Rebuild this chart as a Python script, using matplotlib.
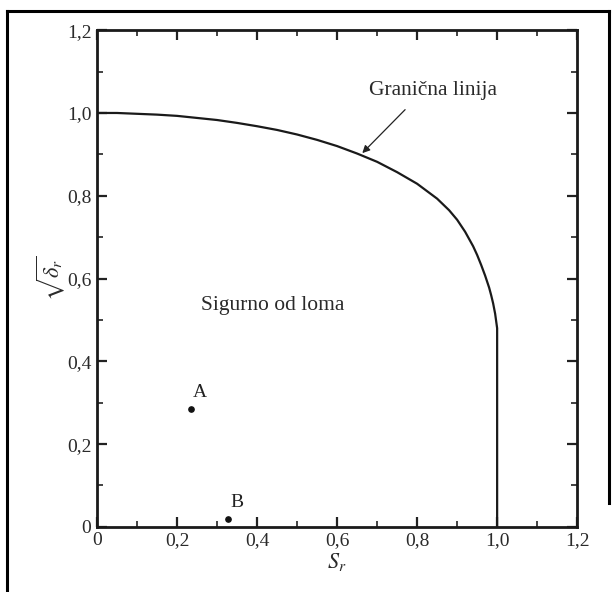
import numpy as np
import matplotlib
matplotlib.use("Agg")
import matplotlib.pyplot as plt
from matplotlib.ticker import MultipleLocator, FuncFormatter
from matplotlib.lines import Line2D

plt.rcParams['font.family'] = ['Liberation Serif', 'DejaVu Serif']
plt.rcParams['mathtext.fontset'] = 'stix'

# granicna linija
sr_curve = [0.0, 0.05, 0.1, 0.15, 0.2, 0.25, 0.3, 0.35, 0.4, 0.45, 0.5, 0.55,
            0.6, 0.65, 0.7, 0.75, 0.8, 0.85, 0.88, 0.9, 0.92, 0.94, 0.95,
            0.96, 0.97, 0.98, 0.985, 0.99, 0.995, 1.0, 1.0]
kr_curve = [1.0, 1.0, 0.998, 0.996, 0.993, 0.988, 0.983, 0.976, 0.968, 0.959,
            0.948, 0.935, 0.92, 0.902, 0.882, 0.857, 0.829, 0.793, 0.765,
            0.742, 0.713, 0.678, 0.657, 0.633, 0.607, 0.578, 0.56, 0.54,
            0.515, 0.48, 0.0]

# tocke A i B
pt_names = ['A', 'B']
pt_sr = [0.234, 0.327]
pt_kr = [0.285, 0.02]

fig = plt.figure(figsize=(6.14, 5.92), dpi=100)
ax = fig.add_axes([0.158, 0.110, 0.782, 0.839])

ax.plot(sr_curve, kr_curve, color='#1a1a1a', lw=1.6, solid_joinstyle='round')
ax.plot(pt_sr, pt_kr, 'o', color='#111111', ms=3.8)
for name, x, y in zip(pt_names, pt_sr, pt_kr):
    ax.text(x + 0.006, y + 0.018, name, fontsize=14, color='#222222',
            ha='left', va='bottom')

ax.text(0.44, 0.536, 'Sigurno od loma', fontsize=15.5, color='#2a2a2a',
        ha='center', va='center')
ax.text(0.84, 1.054, 'Granična linija', fontsize=15.5, color='#2a2a2a',
        ha='center', va='center')
ax.annotate('', xy=(0.663, 0.903), xytext=(0.77, 1.008),
            arrowprops=dict(arrowstyle='-|>', color='#222222', lw=0.9,
                            mutation_scale=11, shrinkA=0, shrinkB=0))

ax.set_xlim(0, 1.2)
ax.set_ylim(0, 1.2)
ax.xaxis.set_major_locator(MultipleLocator(0.2))
ax.yaxis.set_major_locator(MultipleLocator(0.2))
ax.xaxis.set_minor_locator(MultipleLocator(0.1))
ax.yaxis.set_minor_locator(MultipleLocator(0.1))
fmt = FuncFormatter(lambda v, p: '0' if abs(v) < 1e-9 else ('%.1f' % v).replace('.', ','))
ax.xaxis.set_major_formatter(fmt)
ax.yaxis.set_major_formatter(fmt)
ax.tick_params(which='both', direction='in', top=True, right=True,
               labelsize=14, labelcolor='#2a2a2a', color='#222222')
ax.tick_params(which='major', length=7, width=1.6, pad=4)
ax.tick_params(which='minor', length=4, width=1.2)
for s in ax.spines.values():
    s.set_linewidth(2.0)
    s.set_color('#1a1a1a')

ax.set_xlabel('$S_r$', fontsize=16, color='#2a2a2a', labelpad=1)
ax.set_ylabel(r'$\sqrt{\delta_r}$', fontsize=16, color='#2a2a2a', labelpad=0)

# okvir slike
for xs, ys in [([0.012, 0.012], [0.0, 0.982]),
               ([0.012, 0.992], [0.982, 0.982]),
               ([0.992, 0.992], [0.982, 0.15])]:
    fig.add_artist(Line2D(xs, ys, transform=fig.transFigure,
                          color='black', lw=2.2))

fig.savefig('out.png', dpi=100)
